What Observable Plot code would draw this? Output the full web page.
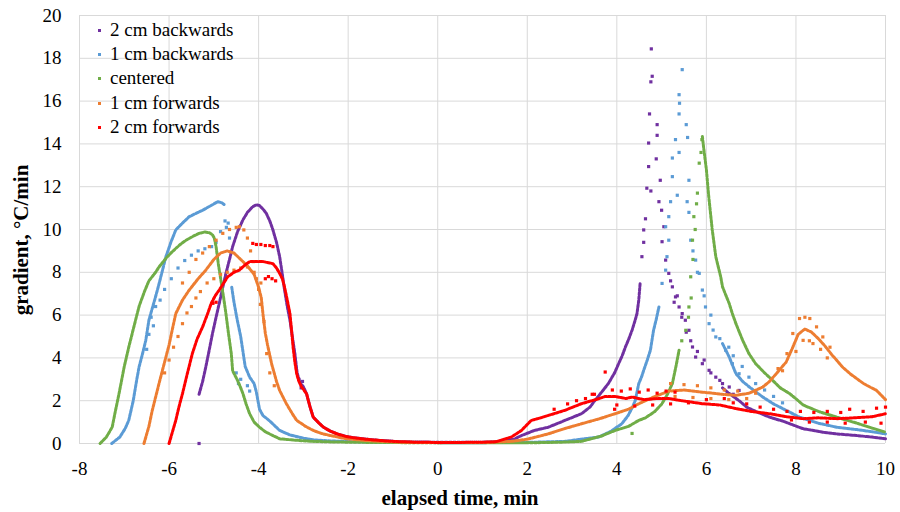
<!DOCTYPE html>
<html>
<head>
<meta charset="utf-8">
<script src="https://cdn.jsdelivr.net/npm/d3@7"></script>
<script src="https://cdn.jsdelivr.net/npm/@observablehq/plot@0.6"></script>
<style>
  html, body { margin: 0; padding: 0; background: #fff; }
  #wrap { position: relative; width: 900px; height: 512px; }
  #wrap svg text { font-family: 'Liberation Serif' !important; }
  #legend { position: absolute; left: 96px; top: 18px; font-size: 19px; line-height: 24.2px; color: #000; font-family: 'Liberation Serif'; }
  #legend .row { position: relative; padding-left: 14px; white-space: nowrap; font-family: 'Liberation Serif'; }
  #legend .mk { position: absolute; left: 2px; top: 11px; width: 3px; height: 3px; }
</style>
</head>
<body>
<div id="wrap"></div>
<script>
// ---- tick values ----
const xTicks = [-8, -6, -4, -2, 0, 2, 4, 6, 8, 10];
const yTicks = [0, 2, 4, 6, 8, 10, 12, 14, 16, 18, 20];

// ---- series names & colours ----
const seriesNames = ["2 cm backwards", "1 cm backwards", "centered", "1 cm forwards", "2 cm forwards"];
const seriesColors = ["#7030a0", "#5b9bd5", "#70ad47", "#ed7d31", "#ff0000"];

// ---- 2 cm backwards (purple) ----
const back2CurveA = [[-5.33,2.3],[-5.25,2.9],[-5.18,3.57],[-5.1,4.4],[-5.03,5.14],[-4.95,5.9],[-4.88,6.54],[-4.8,7.3],[-4.73,7.95],[-4.65,8.6],[-4.58,9.2],[-4.47,9.9],[-4.35,10.45],[-4.25,10.8],[-4.13,11.07],[-4.05,11.15],[-3.98,11.12],[-3.9,10.95],[-3.83,10.76],[-3.75,10.4],[-3.68,9.98],[-3.6,9.4],[-3.53,8.73],[-3.47,7.9],[-3.42,7.17],[-3.36,6.4],[-3.3,5.76],[-3.24,4.9],[-3.19,4.2],[-3.14,3.3],[-3.08,2.85],[-3.0,2.65],[-2.93,2.33],[-2.85,1.7],[-2.78,1.23],[-2.65,0.95],[-2.55,0.76],[-2.4,0.58],[-2.25,0.45],[-2.05,0.33],[-1.88,0.27],[-1.6,0.2],[-1.28,0.14],[-0.9,0.09],[-0.5,0.07],[0,0.06],[0.5,0.06],[1.0,0.06],[1.4,0.1],[1.7,0.2],[1.87,0.37],[2.16,0.61],[2.47,0.76],[2.84,1.08],[3.21,1.39],[3.4,1.7],[3.51,2.01],[3.66,2.4],[3.81,2.8],[3.95,3.3],[4.04,3.73],[4.12,4.1],[4.19,4.5],[4.27,4.9],[4.34,5.29],[4.4,5.7],[4.45,6.07],[4.49,6.7],[4.52,7.48]];
const back2CurveB = [[6.36,2.6],[6.5,2.35],[6.73,2.0],[6.9,1.7],[7.1,1.5],[7.41,1.23],[7.7,1.05],[8.16,0.69],[8.6,0.53],[8.91,0.45],[9.36,0.37],[9.7,0.3],[10.0,0.22]];
const back2Points = [[-5.33,0],[-3.1,3.0],[-3.02,2.9],[-3.05,2.6],[4.56,8.73],[4.6,9.4],[4.6,9.98],[4.64,10.5],[4.67,11.93],[4.71,12.94],[4.71,14.04],[4.73,15.4],[4.76,11.8],[4.77,18.44],[4.79,17.16],[4.76,16.9],[4.88,13.3],[4.9,14.4],[4.9,14.9],[4.97,12.3],[4.94,11.3],[5.0,10.9],[5.05,10.13],[5.01,9.43],[5.09,8.57],[5.16,7.95],[5.24,7.32],[5.31,6.85],[5.39,6.38],[5.46,6.07],[5.53,5.76],[5.61,5.29],[5.69,4.51],[5.76,4.04],[5.91,3.73],[6.06,3.42],[6.21,3.1],[6.36,2.8],[6.51,2.64],[6.73,2.48],[5.2,7.6],[5.28,6.6],[5.35,6.9],[5.45,5.9],[5.55,5.2],[5.65,4.8],[5.8,4.3],[5.95,3.9],[6.1,3.3],[6.3,2.95],[6.6,2.3]];

// ---- 1 cm backwards (blue) ----
const back1CurveA = [[-7.28,0],[-7.1,0.3],[-6.98,0.7],[-6.9,1.08],[-6.8,2.0],[-6.72,3.0],[-6.67,3.57],[-6.58,4.3],[-6.52,4.82],[-6.45,5.76],[-6.35,6.5],[-6.26,7.17],[-6.17,7.9],[-6.07,8.73],[-5.96,9.4],[-5.85,9.98],[-5.7,10.3],[-5.55,10.6],[-5.4,10.75],[-5.25,10.9],[-5.08,11.1],[-4.91,11.3],[-4.82,11.25],[-4.76,11.15]];
const back1CurveB = [[-4.6,7.3],[-4.55,6.6],[-4.48,5.8],[-4.4,5.0],[-4.35,4.3],[-4.3,3.6],[-4.2,3.1],[-4.1,2.8],[-4.05,2.4],[-3.98,1.6],[-3.9,1.3],[-3.75,1.05],[-3.6,0.75],[-3.53,0.61],[-3.3,0.4],[-3.0,0.25],[-2.78,0.17],[-2.4,0.12],[-2.0,0.09],[-1.5,0.06],[-1,0.05],[0,0.04],[1,0.04],[2,0.05],[2.5,0.08],[2.84,0.1],[3.2,0.2],[3.59,0.3],[3.85,0.55],[4.11,0.92],[4.25,1.3],[4.35,1.7],[4.41,2.0],[4.49,2.8],[4.55,3.1],[4.6,3.42],[4.68,3.9],[4.75,4.36],[4.82,5.29],[4.88,5.8],[4.94,6.38]];
const back1CurveC = [[6.36,4.67],[6.51,4.04],[6.66,3.26],[6.81,2.9],[6.96,2.64],[7.26,2.17],[7.5,1.85],[7.78,1.55],[8.08,1.23],[8.5,0.95],[8.91,0.76],[9.36,0.65],[9.7,0.55],[10.0,0.45]];
const back1Points = [[5.01,7.48],[5.09,8.1],[5.12,8.73],[5.16,9.5],[5.09,10.13],[5.16,10.6],[5.2,11.3],[5.24,12.47],[5.24,13.34],[5.35,11.6],[5.39,13.6],[5.31,14.2],[5.39,15.4],[5.4,15.9],[5.39,16.3],[5.46,17.47],[5.55,14.9],[5.58,14.3],[5.61,12.3],[5.57,11.3],[5.61,10.8],[5.65,9.5],[5.76,8.57],[5.84,7.95],[5.91,7.17],[5.98,6.38],[6.06,5.6],[6.21,4.98],[6.43,4.36],[6.58,3.73],[6.73,3.26],[5.7,9.0],[5.8,8.0],[5.95,6.9],[6.1,6.0],[6.15,5.3],[6.3,4.9],[6.5,4.5],[6.6,4.1],[6.8,3.6],[6.95,3.1],[7.1,2.8],[7.3,2.5],[7.5,2.2],[7.7,1.9],[-6.4,5.9],[-6.3,6.4],[-6.2,6.7],[-6.1,7.2],[-5.95,7.7],[-5.8,8.2],[-5.65,8.55],[-5.5,8.8],[-5.35,9.0],[-5.2,9.1],[-5.05,9.2],[-4.95,9.4],[-4.85,9.9],[-4.75,10.4],[-4.72,10.1],[-4.68,10.3],[-4.65,9.6],[-6.45,5.1],[-6.35,5.5],[-6.5,4.4],[-4.5,3.3],[-4.4,3.0],[-4.45,2.8],[-4.25,2.7],[-4.2,2.45]];

// ---- centered (green) ----
const centerCurveA = [[-7.54,0],[-7.4,0.3],[-7.27,0.76],[-7.2,1.5],[-7.12,2.3],[-7.0,3.6],[-6.9,4.5],[-6.78,5.5],[-6.67,6.4],[-6.55,7.1],[-6.45,7.6],[-6.3,8.0],[-6.22,8.26],[-6.05,8.7],[-5.93,8.96],[-5.75,9.3],[-5.62,9.5],[-5.45,9.7],[-5.33,9.82],[-5.2,9.88],[-5.1,9.85],[-5.03,9.75],[-4.99,9.6],[-4.95,9.2],[-4.9,8.4],[-4.84,7.6],[-4.78,6.8],[-4.73,6.07],[-4.67,5.1],[-4.61,4.2],[-4.58,3.4],[-4.52,3.15],[-4.47,2.95],[-4.4,2.6],[-4.35,2.33],[-4.28,1.85],[-4.2,1.39],[-4.1,1.0],[-3.98,0.76],[-3.85,0.55],[-3.68,0.37],[-3.53,0.22],[-3.15,0.15],[-2.8,0.1],[-2.3,0.07],[-1.5,0.05],[0,0.03],[1,0.03],[2,0.03],[2.76,0.06],[3.21,0.1],[3.66,0.35],[3.96,0.61],[4.26,0.8],[4.49,1.08],[4.64,1.2],[4.85,1.5],[5.01,1.86],[5.13,2.3],[5.24,2.8],[5.32,3.6],[5.39,4.36]];
const centerCurveB = [[5.91,14.35],[5.94,13.8],[6.0,12.8],[6.05,11.6],[6.13,10.0],[6.21,8.73],[6.32,7.79],[6.36,7.32],[6.51,6.54],[6.58,6.07],[6.66,5.6],[6.81,4.82],[6.95,4.2],[7.1,3.73],[7.3,3.3],[7.48,2.95],[7.65,2.6],[7.86,2.33],[8.05,2.0],[8.16,1.8],[8.5,1.5],[8.91,1.23],[9.36,0.95],[9.7,0.72],[10.0,0.53]];
const centerPoints = [[5.45,4.8],[5.54,5.29],[5.61,6.38],[5.65,7.79],[5.69,9.5],[5.72,10.6],[5.8,11.7],[5.84,13.1],[5.6,5.9],[5.66,6.8],[5.7,8.6],[5.75,10.0],[5.78,11.2],[5.88,13.6],[5.9,14.2],[4.34,0.47]];

// ---- 1 cm forwards (orange) ----
const fwd1Curve = [[-6.56,0],[-6.45,0.8],[-6.38,1.5],[-6.3,2.17],[-6.2,3.0],[-6.07,4.04],[-6.0,4.6],[-5.93,5.3],[-5.85,6.07],[-5.7,6.7],[-5.55,7.17],[-5.35,7.7],[-5.18,8.1],[-5.0,8.6],[-4.85,8.9],[-4.7,9.0],[-4.55,8.9],[-4.4,8.6],[-4.25,8.3],[-4.1,7.9],[-4.0,7.3],[-3.94,6.8],[-3.9,6.0],[-3.85,5.15],[-3.8,4.6],[-3.71,3.73],[-3.6,2.9],[-3.53,2.48],[-3.38,1.86],[-3.25,1.4],[-3.15,1.08],[-2.95,0.8],[-2.78,0.61],[-2.6,0.47],[-2.4,0.37],[-2.03,0.22],[-1.6,0.14],[-1.28,0.1],[-0.8,0.06],[0,0.04],[1.0,0.05],[1.64,0.1],[2.0,0.2],[2.47,0.45],[2.84,0.7],[3.21,0.92],[3.6,1.15],[3.96,1.39],[4.26,1.6],[4.49,1.86],[4.8,2.15],[5.16,2.45],[5.5,2.5],[5.91,2.4],[6.36,2.3],[6.66,2.25],[6.95,2.35],[7.26,2.64],[7.41,2.9],[7.56,3.26],[7.78,3.8],[7.93,4.5],[8.05,5.1],[8.2,5.35],[8.35,5.2],[8.5,4.9],[8.65,4.55],[8.8,4.15],[8.91,3.89],[9.05,3.55],[9.21,3.26],[9.51,2.8],[9.8,2.48],[10.0,2.05]];
const fwd1Points = [[-5.7,7.5],[-5.55,8.0],[-5.4,8.6],[-5.25,8.9],[-5.1,9.2],[-4.95,9.5],[-4.8,9.82],[-4.65,10.0],[-4.5,10.1],[-4.43,10.13],[-4.33,9.98],[-4.25,9.6],[-4.18,9.0],[-4.12,8.5],[-4.05,7.7],[-4.0,7.2],[-3.96,6.5],[-6.1,3.3],[-6.0,3.9],[-5.9,4.5],[-5.8,5.0],[-5.7,5.6],[-5.6,6.1],[-5.5,6.4],[-5.4,6.8],[-5.3,7.1],[-5.15,7.5],[-5.0,7.7],[-4.85,7.9],[-4.7,8.0],[-4.55,8.1],[-4.4,8.2],[-4.25,8.25],[-4.1,8.0],[-3.95,7.5],[-3.88,5.7],[-3.82,4.2],[-3.75,3.3],[-3.65,2.7],[7.93,5.14],[8.08,5.84],[8.2,5.9],[8.31,5.84],[8.46,5.45],[8.6,4.98],[8.76,4.5],[8.0,4.3],[8.16,4.82],[8.3,4.8],[8.38,4.67],[8.55,4.4],[8.7,4.0],[5.2,2.8],[5.5,2.75],[5.8,2.7],[6.1,2.6],[6.4,2.5],[6.7,2.45],[5.3,2.2],[5.7,2.15],[6.1,2.1],[6.5,2.05],[6.9,2.1],[7.1,2.35],[7.6,3.5],[7.7,3.4],[7.8,4.2]];

// ---- 2 cm forwards (red) ----
const fwd2Curve = [[-6.0,0],[-5.93,0.5],[-5.85,1.08],[-5.78,1.7],[-5.7,2.33],[-5.6,3.2],[-5.48,4.2],[-5.37,4.9],[-5.25,5.45],[-5.15,6.0],[-5.06,6.54],[-4.97,6.9],[-4.88,7.17],[-4.78,7.5],[-4.69,7.79],[-4.55,8.0],[-4.43,8.1],[-4.3,8.35],[-4.2,8.5],[-4.05,8.5],[-3.9,8.5],[-3.78,8.45],[-3.68,8.4],[-3.6,8.2],[-3.53,7.95],[-3.47,7.7],[-3.42,7.3],[-3.36,6.7],[-3.3,6.07],[-3.26,5.2],[-3.23,4.5],[-3.19,3.8],[-3.15,3.26],[-3.1,2.9],[-3.04,2.64],[-2.93,2.33],[-2.85,1.7],[-2.78,1.23],[-2.65,0.95],[-2.55,0.76],[-2.4,0.58],[-2.25,0.45],[-2.05,0.33],[-1.88,0.27],[-1.6,0.2],[-1.28,0.14],[-0.9,0.09],[-0.5,0.06],[0,0.05],[0.5,0.05],[1.0,0.06],[1.3,0.08],[1.64,0.3],[1.87,0.61],[2.09,1.08],[2.3,1.2],[2.47,1.31],[2.84,1.55],[3.21,1.86],[3.59,2.09],[3.74,2.2],[3.96,2.2],[4.2,2.1],[4.34,2.17],[4.6,2.05],[4.9,2.1],[5.16,2.1],[5.45,2.0],[5.91,1.86],[6.3,1.8],[6.66,1.63],[7.0,1.5],[7.41,1.39],[7.8,1.25],[8.16,1.16],[8.5,1.2],[8.91,1.16],[9.3,1.2],[9.7,1.25],[10.0,1.39]];
const fwd2Points = [[-4.13,9.35],[-4.05,9.3],[-3.95,9.3],[-3.85,9.25],[-3.75,9.25],[-3.68,9.2],[-3.85,7.7],[-3.78,7.8],[-3.7,7.7],[-3.62,7.6],[-5.02,6.55],[-4.95,6.6],[3.74,3.34],[3.45,2.3],[2.6,1.6],[2.9,1.85],[3.1,2.0],[3.3,2.1],[3.5,2.3],[3.9,2.5],[4.1,2.45],[4.3,2.55],[4.5,2.4],[4.7,2.5],[4.9,2.35],[5.1,2.45],[5.3,2.4],[3.95,1.6],[4.0,1.8],[4.4,1.75],[4.8,1.8],[5.2,1.85],[5.6,1.9],[6.0,2.05],[6.4,2.1],[6.6,1.9],[6.9,1.85],[7.2,1.7],[7.5,1.6],[7.8,1.5],[8.1,1.5],[8.4,1.45],[8.7,1.5],[9.0,1.45],[9.2,1.6],[9.5,1.5],[9.8,1.65],[10.0,1.7],[9.9,0.95],[9.55,1.0],[9.1,0.95],[8.7,1.0],[8.3,1.0],[7.9,1.1]];

// ---- assemble ----
const seriesCurves = [
  [back2CurveA, back2CurveB],
  [back1CurveA, back1CurveB, back1CurveC],
  [centerCurveA, centerCurveB],
  [fwd1Curve],
  [fwd2Curve]
];
const seriesPoints = [back2Points, back1Points, centerPoints, fwd1Points, fwd2Points];

const seriesMarks = [];
seriesNames.forEach((name, i) => {
  const lineRows = [];
  seriesCurves[i].forEach((c, j) => c.forEach(([x, y]) => lineRows.push({seg: j, x, y})));
  const dotRows = seriesPoints[i].map(([x, y]) => ({x, y}));
  seriesMarks.push(
    Plot.line(lineRows, {x: "x", y: "y", z: "seg", stroke: seriesColors[i], strokeWidth: 3, strokeDasharray: "2.6 1.6"}),
    Plot.dot(dotRows, {x: "x", y: "y", symbol: "square", r: 1.8, fill: seriesColors[i]})
  );
});

const fmt = d => (d < 0 ? "-" + Math.abs(d) : String(d));

const chart = Plot.plot({
  width: 900,
  height: 512,
  marginLeft: 79,
  marginRight: 15,
  marginTop: 15,
  marginBottom: 69,
  x: {domain: [-8, 10]},
  y: {domain: [0, 20]},
  style: "font-family: 'Liberation Serif'; font-size: 19px; color: #000; background: #fff; overflow: visible;",
  marks: [
    Plot.gridX(xTicks, {stroke: "#d9d9d9", strokeOpacity: 1, strokeWidth: 1}),
    Plot.gridY(yTicks, {stroke: "#d9d9d9", strokeOpacity: 1, strokeWidth: 1}),
    Plot.axisX(xTicks, {tickSize: 0, tickPadding: 18, tickFormat: fmt, label: null, fontSize: 19}),
    Plot.axisY(yTicks, {tickSize: 0, tickPadding: 18, label: null, fontSize: 19}),
    ...seriesMarks
  ]
});

const wrap = document.getElementById("wrap");
wrap.appendChild(chart);

const svg = d3.select(chart);
svg.append("text")
  .attr("x", 460).attr("y", 505)
  .attr("text-anchor", "middle")
  .style("font-family", "'Liberation Serif'")
  .attr("font-weight", "bold").attr("font-size", 21)
  .attr("fill", "#000")
  .text("elapsed time, min");
svg.append("text")
  .attr("transform", "translate(28,240) rotate(-90)")
  .attr("text-anchor", "middle")
  .style("font-family", "'Liberation Serif'")
  .attr("font-weight", "bold").attr("font-size", 21)
  .attr("fill", "#000")
  .text("gradient, °C/min");

// legend
const legend = document.createElement("div");
legend.id = "legend";
seriesNames.forEach((name, i) => {
  const row = document.createElement("div");
  row.className = "row";
  const mk = document.createElement("span");
  mk.className = "mk";
  mk.style.background = seriesColors[i];
  row.appendChild(mk);
  row.appendChild(document.createTextNode(name));
  legend.appendChild(row);
});
wrap.appendChild(legend);
</script>
</body>
</html>
